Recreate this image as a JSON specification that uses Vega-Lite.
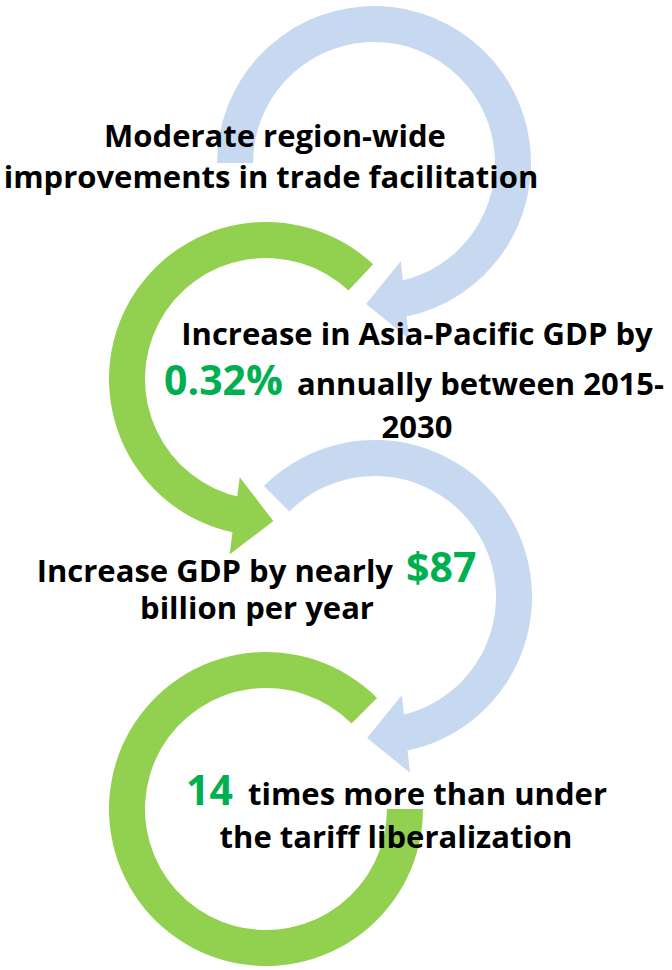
{
  "$schema": "https://vega.github.io/schema/vega-lite/v6.json",
  "width": 672,
  "height": 970,
  "padding": 0,
  "autosize": {"type": "fit", "contains": "padding"},
  "background": "white",
  "config": {"view": {"stroke": null}},
  "datasets": {
    "arcs": [
      {"step": "facilitation", "series": "blue", "cx": 374, "cy": 163, "start": -90, "end": 168},
      {"step": "gdp share", "series": "green", "cx": 266, "cy": 379, "start": -168, "end": 43},
      {"step": "gdp value", "series": "blue", "cx": 375, "cy": 597, "start": -45, "end": 168},
      {"step": "comparison", "series": "green", "cx": 266, "cy": 809, "start": 90, "end": 405}
    ],
    "heads": [
      {"step": "facilitation", "series": "blue", "x": 385.5, "y": 302, "heading": 264},
      {"step": "gdp share", "series": "green", "x": 254, "y": 518.5, "heading": 97.5},
      {"step": "gdp value", "series": "blue", "x": 386.5, "y": 736, "heading": 264}
    ],
    "labels": [
      {"text": "Moderate region-wide", "role": "body", "anchor": "center", "x": 275, "y": 147},
      {"text": "improvements in trade facilitation", "role": "body", "anchor": "center", "x": 271, "y": 188},
      {"text": "Increase in Asia-Pacific GDP by", "role": "body", "anchor": "center", "x": 417, "y": 345},
      {"text": "0.32%", "role": "figure", "anchor": "right", "x": 283, "y": 395},
      {"text": "annually between 2015-", "role": "body", "anchor": "left", "x": 297, "y": 395},
      {"text": "2030", "role": "body", "anchor": "center", "x": 417, "y": 438},
      {"text": "Increase GDP by nearly", "role": "body", "anchor": "right", "x": 393, "y": 582},
      {"text": "$87", "role": "figure", "anchor": "left", "x": 406, "y": 582},
      {"text": "billion per year", "role": "body", "anchor": "center", "x": 257, "y": 619},
      {"text": "14", "role": "figure", "anchor": "right", "x": 233, "y": 805},
      {"text": "times more than under", "role": "body", "anchor": "left", "x": 248, "y": 805},
      {"text": "the tariff liberalization", "role": "body", "anchor": "center", "x": 396, "y": 848}
    ]
  },
  "encoding": {},
  "layer": [
    {
      "data": {"name": "arcs"},
      "mark": {"type": "arc", "radius": 157, "radius2": 121},
      "encoding": {
        "x": {"field": "cx", "type": "quantitative", "scale": {"domain": [0, 672], "nice": false, "zero": false}, "axis": null},
        "y": {"field": "cy", "type": "quantitative", "scale": {"domain": [0, 970], "nice": false, "zero": false, "reverse": true}, "axis": null},
        "theta": {"field": "start", "type": "quantitative", "stack": null, "scale": {"domain": [0, 360], "range": [0, 6.283185307179586], "zero": false, "nice": false}},
        "theta2": {"field": "end"},
        "color": {"field": "series", "type": "nominal", "scale": {"domain": ["blue", "green"], "range": ["#C6D9F0", "#92D050"]}, "legend": null}
      }
    },
    {
      "data": {"name": "heads"},
      "mark": {"type": "point", "shape": "M -1 0.5 L 0 -0.5 L 1 0.5 Z", "filled": true, "opacity": 1, "size": 6084, "strokeWidth": 0},
      "encoding": {
        "x": {"field": "x", "type": "quantitative"},
        "y": {"field": "y", "type": "quantitative"},
        "angle": {"field": "heading", "type": "quantitative", "scale": null},
        "color": {"field": "series", "type": "nominal", "legend": null}
      }
    },
    {
      "data": {"name": "labels"},
      "transform": [{"filter": "datum.anchor === 'center'"}],
      "mark": {"type": "text", "align": "center", "baseline": "alphabetic", "font": "Open Sans", "fontWeight": "bold"},
      "encoding": {
        "x": {"field": "x", "type": "quantitative"},
        "y": {"field": "y", "type": "quantitative"},
        "text": {"field": "text"},
        "size": {"field": "role", "type": "ordinal", "scale": {"domain": ["body", "figure"], "range": [31, 41]}, "legend": null},
        "fill": {"field": "role", "type": "nominal", "scale": {"domain": ["body", "figure"], "range": ["#000000", "#00B050"]}, "legend": null}
      }
    },
    {
      "data": {"name": "labels"},
      "transform": [{"filter": "datum.anchor === 'left'"}],
      "mark": {"type": "text", "align": "left", "baseline": "alphabetic", "font": "Open Sans", "fontWeight": "bold"},
      "encoding": {
        "x": {"field": "x", "type": "quantitative"},
        "y": {"field": "y", "type": "quantitative"},
        "text": {"field": "text"},
        "size": {"field": "role", "type": "ordinal", "legend": null},
        "fill": {"field": "role", "type": "nominal", "legend": null}
      }
    },
    {
      "data": {"name": "labels"},
      "transform": [{"filter": "datum.anchor === 'right'"}],
      "mark": {"type": "text", "align": "right", "baseline": "alphabetic", "font": "Open Sans", "fontWeight": "bold"},
      "encoding": {
        "x": {"field": "x", "type": "quantitative"},
        "y": {"field": "y", "type": "quantitative"},
        "text": {"field": "text"},
        "size": {"field": "role", "type": "ordinal", "legend": null},
        "fill": {"field": "role", "type": "nominal", "legend": null}
      }
    }
  ],
  "resolve": {"scale": {"x": "shared", "y": "shared", "color": "shared", "size": "shared", "fill": "shared"}}
}
